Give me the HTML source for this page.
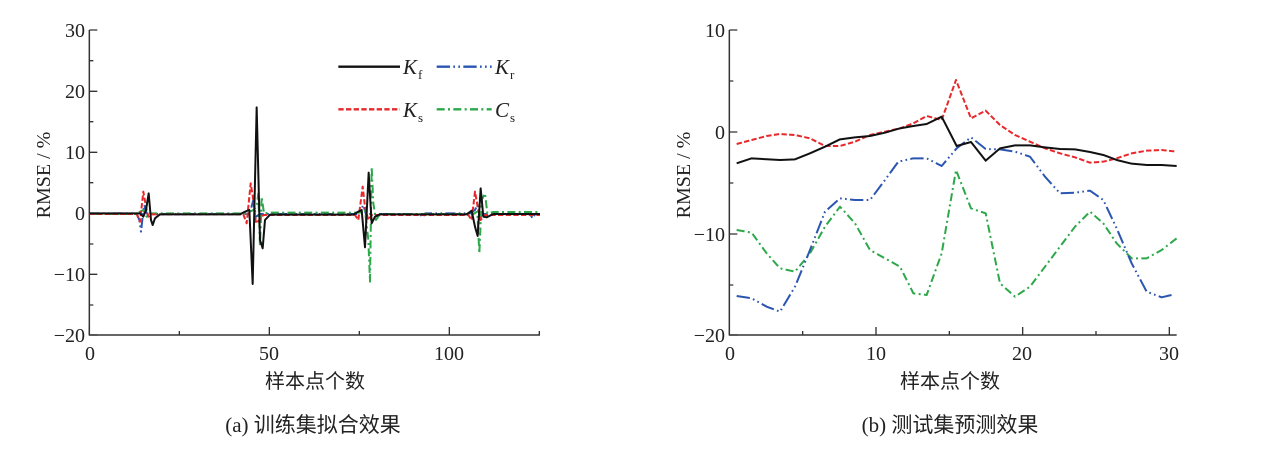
<!DOCTYPE html>
<html><head><meta charset="utf-8"><style>
html,body{margin:0;padding:0;background:#fff;}
svg{display:block;}
text{font-family:"Liberation Serif","Noto Serif CJK SC",serif;fill:#222;}
.cj{font-family:"Liberation Serif","Noto Sans CJK SC",sans-serif;}
</style></head><body>
<svg width="1268" height="449" viewBox="0 0 1268 449">
<!-- LEFT CHART -->
<g transform="translate(40,20) scale(0.33333)" fill="none" stroke-linejoin="round">
  <path d="M148 30 V945 H1500" stroke="#333" stroke-width="4.5"/>
  <path d="M148 30h24M148 214h24M148 397h24M148 580h24M148 763h24M148 945h24M148 122h12M148 305h12M148 488h12M148 672h12M148 855h12" stroke="#333" stroke-width="4"/>
  <path d="M148 945v-24M688 945v-24M1228 945v-24M418 945v-12M958 945v-12M1498 945v-12" stroke="#333" stroke-width="4"/>
  <path d="M148 580 H290 L298 600 L303 635 L308 590 L313 555 L320 580 L330 582 H620 L632 570 L640 540 L648 590 L660 582 H950 L960 575 L970 555 L980 590 L990 582 H1140 L1148 592 L1156 580 H1290 L1305 570 L1312 555 L1320 590 L1330 582 H1470 L1478 595 L1486 582 H1500" stroke="#2a55b0" stroke-width="6" stroke-dasharray="30 10 5 10 5 10"/>
  <path d="M148 582 H290 L300 575 L310 570 L320 590 L330 580 H620 L640 570 L650 560 L655 520 L660 680 L665 530 L672 580 L690 578 H960 L975 570 L985 660 L990 785 L995 440 L1000 550 L1008 600 L1020 582 H1300 L1312 575 L1318 700 L1325 540 L1335 520 L1342 580 L1360 576 H1500" stroke="#2ca84a" stroke-width="6" stroke-dasharray="24 10 6 10"/>
  <path d="M148 582 H290 L300 605 L310 515 L318 560 L325 590 L335 583 H610 L620 610 L632 490 L640 540 L648 610 L658 600 L670 585 H945 L955 600 L968 500 L975 560 L985 600 L995 585 H1285 L1295 600 L1305 515 L1313 560 L1322 600 L1335 585 H1500" stroke="#e8272a" stroke-width="6" stroke-dasharray="16 7"/>
  <path d="M148 580 H300 L310 590 L318 570 L326 520 L333 600 L338 615 L345 595 L360 583 H600 L615 575 L628 570 L638 792 L650 262 L660 660 L668 685 L675 600 L690 584 H940 L955 575 L965 570 L975 682 L986 458 L995 610 L1005 590 L1020 583 H1280 L1295 572 L1305 620 L1313 648 L1322 505 L1330 590 L1340 592 L1360 582 H1500" stroke="#111" stroke-width="6"/>
  <path d="M895 140 H1080" stroke="#111" stroke-width="7"/>
  <path d="M1190 140 H1355" stroke="#2a55b0" stroke-width="7" stroke-dasharray="40 10 5 10 5 10"/>
  <path d="M895 268 H1080" stroke="#e8272a" stroke-width="7" stroke-dasharray="16 7"/>
  <path d="M1190 268 H1355" stroke="#2ca84a" stroke-width="7" stroke-dasharray="24 10 6 10"/>
</g>
<g font-size="21">
  <text x="403" y="74" font-style="italic">K</text><text x="418" y="79" font-size="13">f</text>
  <text x="495" y="74" font-style="italic">K</text><text x="510" y="79" font-size="13">r</text>
  <text x="403" y="117" font-style="italic">K</text><text x="418" y="122" font-size="13">s</text>
  <text x="495" y="117" font-style="italic">C</text><text x="510" y="122" font-size="13">s</text>
</g>
<g font-size="20" text-anchor="end">
  <text x="85" y="37">30</text><text x="85" y="98">20</text><text x="85" y="159">10</text>
  <text x="85" y="220">0</text><text x="85" y="281">−10</text><text x="85" y="342">−20</text>
</g>
<g font-size="20" text-anchor="middle">
  <text x="90" y="360">0</text><text x="269" y="360">50</text><text x="449" y="360">100</text>
</g>
<text x="50" y="175" font-size="20" text-anchor="middle" transform="rotate(-90 50 175)">RMSE / %</text>
<text x="315" y="388" font-size="20" text-anchor="middle" class="cj">样本点个数</text>
<text x="313" y="432" font-size="21" text-anchor="middle" class="cj">(a)  训练集拟合效果</text>

<!-- RIGHT CHART -->
<g transform="translate(680,20) scale(0.33333)" fill="none" stroke-linejoin="round">
  <path d="M148 30 V945 H1490" stroke="#333" stroke-width="4.5"/>
  <path d="M148 30h24M148 336h24M148 642h24M148 945h24M148 183h12M148 489h12M148 795h12" stroke="#333" stroke-width="4"/>
  <path d="M588 945v-24M1028 945v-24M1468 945v-24M368 945v-12M808 945v-12M1248 945v-12" stroke="#333" stroke-width="4"/>
  <path d="M170 630 L215 638 L260 700 L300 745 L345 755 L390 700 L435 620 L480 560 L525 610 L570 690 L615 715 L660 740 L700 820 L740 825 L785 700 L828 450 L873 565 L917 580 L960 790 L1005 830 L1050 800 L1095 740 L1140 680 L1185 620 L1230 575 L1270 610 L1310 670 L1355 715 L1400 715 L1445 690 L1490 655" stroke="#2ca84a" stroke-width="6" stroke-dasharray="24 10 6 10"/>
  <path d="M170 828 L215 835 L260 860 L300 875 L345 800 L390 690 L435 575 L480 535 L525 540 L570 540 L615 480 L655 425 L700 415 L740 415 L785 438 L830 385 L873 352 L917 387 L960 388 L1005 395 L1050 410 L1095 470 L1140 520 L1185 518 L1230 512 L1270 540 L1310 625 L1355 730 L1400 815 L1445 832 L1475 825" stroke="#2a55b0" stroke-width="6" stroke-dasharray="40 10 5 10 5 10"/>
  <path d="M170 372 L215 360 L260 348 L300 342 L345 345 L390 355 L435 378 L480 378 L525 365 L570 345 L615 335 L660 325 L700 310 L740 288 L785 300 L828 180 L873 295 L917 272 L960 315 L1005 345 L1050 365 L1095 385 L1140 400 L1185 412 L1230 428 L1270 425 L1310 415 L1355 400 L1400 392 L1445 390 L1490 395" stroke="#e8272a" stroke-width="6" stroke-dasharray="16 7"/>
  <path d="M170 430 L215 415 L300 420 L345 418 L390 400 L435 380 L480 358 L525 352 L570 348 L615 338 L660 325 L700 318 L740 312 L785 290 L830 378 L873 366 L917 422 L960 385 L1005 376 L1050 376 L1095 382 L1140 387 L1185 388 L1230 396 L1270 405 L1310 420 L1355 431 L1400 435 L1445 435 L1490 438" stroke="#111" stroke-width="6"/>
</g>
<g font-size="20" text-anchor="end">
  <text x="725" y="37">10</text><text x="725" y="139">0</text><text x="725" y="241">−10</text><text x="725" y="342">−20</text>
</g>
<g font-size="20" text-anchor="middle">
  <text x="730" y="360">0</text><text x="876" y="360">10</text><text x="1022" y="360">20</text><text x="1169" y="360">30</text>
</g>
<text x="690" y="175" font-size="20" text-anchor="middle" transform="rotate(-90 690 175)">RMSE / %</text>
<text x="950" y="388" font-size="20" text-anchor="middle" class="cj">样本点个数</text>
<text x="950" y="432" font-size="21" text-anchor="middle" class="cj">(b)  测试集预测效果</text>
</svg>
</body></html>
